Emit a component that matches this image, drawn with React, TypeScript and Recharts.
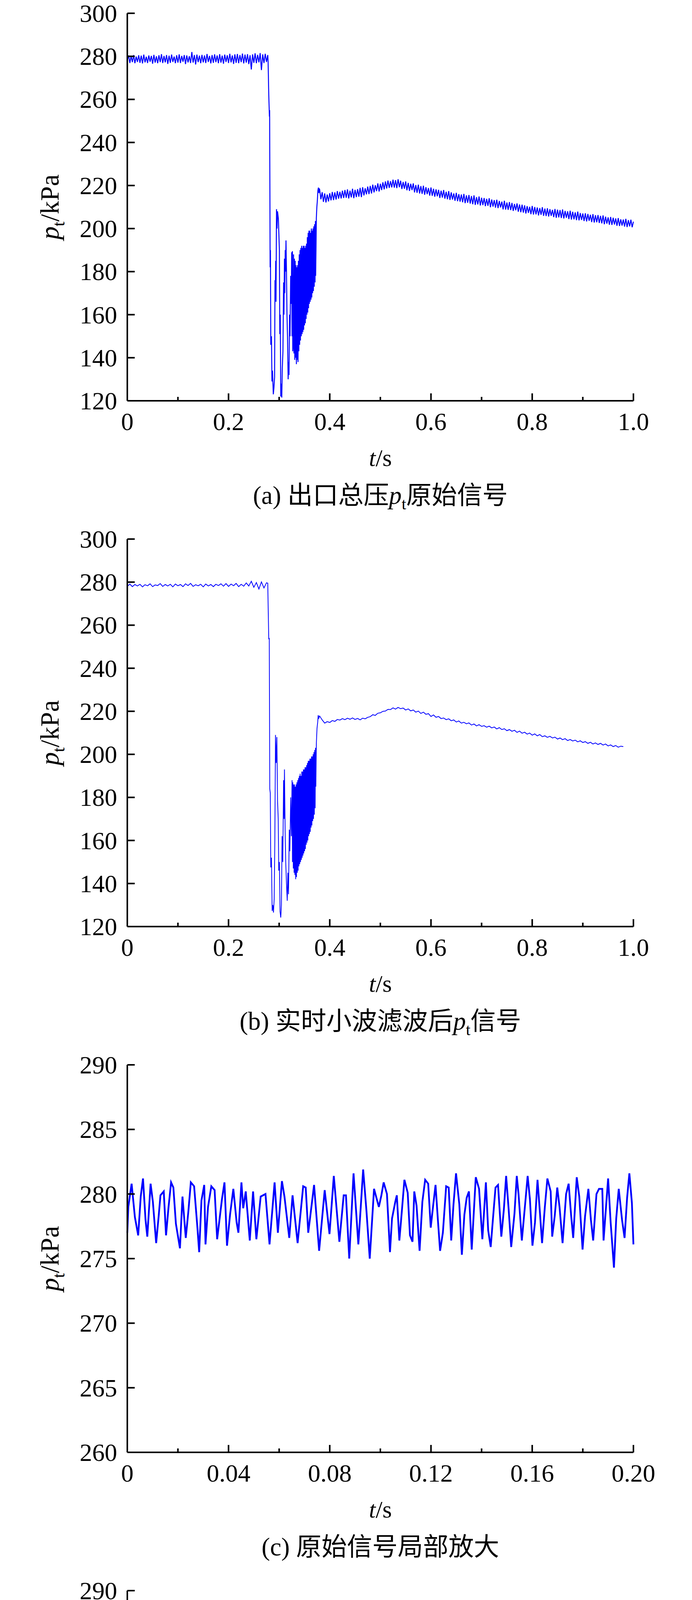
import React from "react";
import { LineChart, Line, XAxis, YAxis } from "recharts";

// ---- shared look ----
const FONT = "'Liberation Serif', 'Times New Roman', 'Noto Sans CJK SC', serif";
const BLUE = "#0000ff";
const W = 1772;
const H = 1346;
const PLOT_LEFT = 326;
const PLOT_RIGHT = 1622;
const PLOT_TOP = 34;
const PLOT_BOTTOM = 1026;
const X_AXIS_H = 100;

// ---- (a) raw signal ----
const A_STEP = 0.0025;
// 0 .. 0.2775 s
const A_PRE = [
  278.2, 280.4, 276.9, 280.1, 277.3, 280.6, 276.8, 279.9, 277.4, 280.5,
  277.0, 280.3, 276.7, 280.8, 277.2, 279.8, 276.9, 280.4, 277.5, 280.2,
  276.6, 280.7, 277.1, 280.0, 276.8, 280.5, 277.3, 281.0, 276.9, 280.2,
  277.2, 280.6, 276.5, 280.3, 277.0, 280.8, 277.4, 279.9, 276.8, 280.5,
  277.1, 280.9, 276.9, 280.2, 277.5, 280.6, 276.4, 280.4, 277.2, 280.1,
  276.9, 282.0, 277.1, 280.6, 276.2, 280.8, 277.3, 280.3, 276.8, 280.7,
  277.2, 280.4, 276.9, 281.1, 277.4, 280.2, 276.7, 280.6, 277.0, 280.9,
  277.3, 280.4, 276.8, 281.0, 277.1, 280.3, 276.6, 280.8, 277.4, 280.5,
  276.9, 281.2, 277.2, 280.4, 276.5, 280.9, 277.0, 281.1, 276.8, 280.6,
  277.3, 281.3, 276.7, 280.8, 277.1, 281.0, 276.4, 280.5, 273.9, 280.9,
  277.0, 281.4, 276.8, 280.7, 277.2, 281.5, 273.6, 280.9, 276.9, 281.2,
  277.4, 280.6,
];
// pressure collapse, [t, p]
const A_DROP: [number, number][] = [
  [0.2782, 277.5], [0.2795, 262], [0.2808, 252], [0.2812, 255], [0.2822, 182],
  [0.2828, 190], [0.2835, 146], [0.2848, 150], [0.2858, 129], [0.2868, 134],
  [0.2885, 123], [0.2897, 126], [0.291, 131], [0.2918, 176], [0.2925, 168],
  [0.2932, 185], [0.2938, 166], [0.2948, 209], [0.2958, 200], [0.2968, 208],
  [0.2985, 204.5], [0.3005, 190], [0.3013, 151], [0.3022, 160], [0.3032, 122],
  [0.3045, 128], [0.3052, 121.5], [0.3062, 135], [0.3075, 143], [0.3088, 175],
  [0.3095, 160], [0.3105, 186], [0.3112, 170], [0.312, 190], [0.3128, 180],
  [0.3135, 194.5], [0.3145, 180], [0.3155, 160], [0.3165, 150], [0.3178, 130],
  [0.3188, 138], [0.3195, 132], [0.3205, 160], [0.3215, 150], [0.3228, 178],
  [0.3238, 165], [0.3248, 189], [0.3255, 150], [0.3262, 189.5], [0.3269, 143],
  [0.3277, 146], [0.3285, 188], [0.3293, 142], [0.3301, 186], [0.3309, 139],
  [0.3317, 185], [0.3325, 140], [0.3333, 183], [0.3341, 137], [0.3349, 182],
  [0.3357, 139], [0.3365, 183], [0.3373, 138], [0.3381, 185], [0.3389, 143],
  [0.3397, 188], [0.3405, 146], [0.3413, 190], [0.3421, 148], [0.3429, 191],
  [0.3437, 150], [0.3445, 192], [0.3453, 151], [0.3461, 191], [0.3469, 152],
  [0.3477, 192], [0.3485, 153], [0.3493, 192], [0.3501, 155], [0.3509, 191],
  [0.3517, 156], [0.3525, 192], [0.3533, 158], [0.3541, 193], [0.3549, 160],
  [0.3557, 196], [0.3565, 161], [0.3573, 198], [0.3581, 163], [0.3589, 199],
  [0.3597, 165], [0.3605, 199], [0.3613, 166], [0.3621, 198], [0.3629, 167],
  [0.3637, 200], [0.3645, 168], [0.3653, 199], [0.3661, 170], [0.3669, 200],
  [0.3677, 171], [0.3685, 201], [0.3693, 173], [0.3701, 202], [0.3709, 175],
  [0.3717, 203.5], [0.3721, 178], [0.3728, 190], [0.3735, 205], [0.3745, 210],
  [0.3755, 213], [0.3765, 217.5], [0.3775, 219], [0.3785, 216.5], [0.379, 218.5],
];
// 0.38 .. 1.0 s
const A_POST = [
  218.2, 213.6, 216.9, 212.4, 216.3, 212.1, 215.8, 212.6, 216.4, 213.1,
  217.0, 213.2, 216.8, 213.5, 217.4, 213.9, 217.1, 214.0, 217.6, 214.2,
  217.9, 214.3, 218.2, 214.0, 217.6, 214.5, 218.5, 214.1, 218.0, 214.6,
  218.3, 214.8, 218.9, 214.6, 219.2, 215.4, 218.7, 215.9, 219.5, 216.0,
  219.8, 216.3, 220.4, 216.8, 220.1, 217.4, 221.0, 217.2, 220.8, 217.9,
  221.5, 218.2, 221.9, 218.6, 222.3, 218.9, 222.0, 219.1, 222.7, 219.0,
  222.5, 218.8, 222.9, 219.2, 222.2, 218.4, 221.6, 218.5, 221.9, 217.8,
  221.2, 217.5, 220.8, 217.9, 221.0, 216.8, 220.2, 216.6, 220.4, 216.3,
  219.7, 216.1, 219.9, 215.7, 219.2, 216.0, 218.8, 215.3, 219.1, 215.2,
  218.5, 214.8, 218.2, 215.0, 218.0, 214.2, 217.6, 214.4, 217.9, 213.9,
  217.1, 213.6, 217.4, 213.3, 216.8, 213.5, 216.3, 212.9, 216.6, 212.7,
  216.0, 212.5, 215.8, 212.2, 216.1, 211.8, 215.4, 212.0, 215.6, 211.6,
  215.1, 211.3, 215.4, 211.0, 214.6, 211.2, 214.9, 210.7, 214.3, 210.9,
  214.2, 210.4, 213.8, 210.6, 214.1, 209.9, 213.5, 210.2, 213.2, 209.7,
  213.4, 209.5, 212.8, 209.8, 212.5, 208.9, 212.9, 208.8, 212.1, 208.7,
  212.3, 208.6, 211.9, 208.2, 211.4, 208.5, 211.7, 207.8, 211.2, 207.6,
  211.1, 207.4, 210.8, 207.0, 210.4, 207.3, 210.1, 206.7, 210.5, 206.5,
  210.0, 206.6, 209.8, 206.1, 209.5, 206.4, 209.9, 205.9, 209.3, 205.8,
  209.4, 205.6, 209.0, 205.9, 208.7, 205.3, 209.1, 205.0, 208.8, 205.2,
  208.6, 204.9, 208.9, 204.7, 208.2, 205.0, 208.0, 204.4, 208.3, 204.2,
  207.8, 204.3, 207.5, 203.9, 207.9, 203.8, 207.2, 204.0, 207.0, 203.5,
  207.1, 203.3, 206.8, 203.6, 206.4, 203.0, 206.7, 202.8, 206.2, 202.9,
  206.3, 202.6, 205.9, 202.4, 206.1, 202.0, 205.5, 202.3, 205.2, 201.8,
  205.4, 201.7, 205.0, 201.9, 204.7, 201.3, 204.9, 201.2, 204.3, 201.4,
  204.2, 200.9, 204.5, 200.7, 203.9, 201.0, 204.1, 200.6, 203.2,
];

// ---- (b) wavelet filtered ----
const B_STEP = 0.005;
const B_PRE = [
  278.0, 279.1, 277.9, 278.9, 278.2, 279.0, 277.8, 278.8, 278.3, 279.2,
  277.9, 278.7, 278.4, 279.3, 278.0, 278.9, 278.2, 279.0, 277.8, 279.1,
  278.3, 278.9, 277.9, 279.2, 278.4, 279.4, 278.0, 278.8, 278.3, 279.0,
  277.8, 279.1, 278.2, 278.9, 277.9, 279.0, 278.4, 279.2, 278.1, 279.3,
  278.0, 279.1, 278.3, 279.4, 277.9, 279.0, 278.1, 279.6, 278.2, 280.4,
  277.6, 279.8, 276.8, 280.1, 277.3, 279.7,
];
const B_DROP: [number, number][] = [
  [0.2775, 279.5], [0.2785, 266], [0.2795, 253.5], [0.2805, 254], [0.2815, 184],
  [0.2825, 182], [0.2835, 147.5], [0.2848, 152], [0.2862, 127.3], [0.2875, 130],
  [0.2888, 126.5], [0.2902, 133], [0.2915, 160], [0.2928, 209], [0.2942, 196],
  [0.2955, 208], [0.2968, 178.7], [0.2982, 170], [0.2992, 146], [0.3005, 150],
  [0.3018, 127], [0.3032, 124.2], [0.3045, 130], [0.3058, 162], [0.3072, 150],
  [0.3088, 188], [0.3098, 170], [0.3105, 193], [0.3118, 165], [0.313, 150],
  [0.3145, 140], [0.316, 132], [0.3172, 145], [0.3185, 135], [0.32, 165],
  [0.3212, 155], [0.3228, 180], [0.3242, 162], [0.3255, 188],
  [0.3263, 150], [0.3271, 187], [0.3279, 147], [0.3287, 186], [0.3295, 145],
  [0.3303, 186], [0.3311, 144], [0.3319, 185], [0.3327, 142], [0.3335, 186],
  [0.3343, 143], [0.3351, 187], [0.3359, 145], [0.3367, 188], [0.3375, 146],
  [0.3383, 189], [0.3391, 148], [0.3399, 190], [0.3407, 149], [0.3415, 191],
  [0.3423, 150], [0.3431, 190], [0.3439, 151], [0.3447, 192], [0.3455, 152],
  [0.3463, 192], [0.3471, 153], [0.3479, 193], [0.3487, 154], [0.3495, 193],
  [0.3503, 155], [0.3511, 194], [0.3519, 156], [0.3527, 194], [0.3535, 158],
  [0.3543, 195], [0.3551, 159], [0.3559, 196], [0.3567, 160], [0.3575, 197],
  [0.3583, 162], [0.3591, 197], [0.3599, 163], [0.3607, 198], [0.3615, 164],
  [0.3623, 198], [0.3631, 166], [0.3639, 199], [0.3647, 167], [0.3655, 199],
  [0.3663, 169], [0.3671, 200], [0.3679, 170], [0.3687, 201], [0.3695, 172],
  [0.3703, 202], [0.3711, 175], [0.3719, 203], [0.3725, 185], [0.3735, 205],
  [0.3748, 212], [0.3762, 215], [0.3772, 218.2], [0.3782, 216.5], [0.3792, 217.5],
];
// 0.38 .. 0.98 s
const B_POST = [
  217.8, 216.0, 214.5, 215.2, 214.8, 215.7, 215.3, 216.2, 215.9, 216.6,
  216.1, 216.8, 216.3, 216.9, 216.2, 216.7, 216.0, 216.8, 216.5, 217.2,
  217.5, 218.4, 218.1, 219.1, 219.3, 220.0, 220.1, 220.9, 220.8, 221.6,
  221.0, 221.8, 221.2, 221.5, 220.6, 221.1, 220.2, 220.6, 219.6, 220.1,
  219.0, 219.6, 218.6, 218.9, 217.6, 218.3, 217.2, 217.6, 216.6, 216.9,
  216.1, 216.5, 215.6, 216.0, 215.0, 215.5, 214.5, 214.9, 214.2, 214.6,
  213.6, 214.1, 213.2, 213.8, 213.0, 213.3, 212.6, 213.1, 212.3, 212.7,
  211.8, 212.4, 211.5, 211.9, 211.0, 211.5, 210.7, 211.2, 210.2, 210.8,
  209.8, 210.3, 209.4, 209.9, 208.9, 209.5, 208.6, 209.2, 208.2, 208.6,
  207.9, 208.4, 207.6, 208.0, 207.1, 207.6, 206.8, 207.3, 206.4, 206.9,
  206.2, 206.6, 205.8, 206.3, 205.5, 205.9, 205.1, 205.6, 204.8, 205.3,
  204.6, 205.1, 204.3, 204.8, 203.9, 204.4, 203.6, 204.1, 203.3, 203.8,
  203.6,
];

// ---- (c) raw signal, zoom 0..0.2 s ----
const C_POINTS: [number, number][] = [
  [0, 277.0], [0.0004, 279.0], [0.0017, 280.8], [0.003, 278.2], [0.0043, 276.8],
  [0.0053, 279.8], [0.0062, 281.2], [0.0072, 278.0], [0.0079, 276.7], [0.0092, 280.8],
  [0.0101, 279.4], [0.0114, 276.2], [0.0124, 278.3], [0.0131, 279.9], [0.0144, 280.2],
  [0.0153, 276.8], [0.0163, 279.0], [0.0173, 280.9], [0.0182, 280.5], [0.0192, 277.7],
  [0.0208, 275.8], [0.0218, 279.8], [0.0231, 276.6], [0.0241, 278.6], [0.0251, 280.9],
  [0.0264, 280.6], [0.0277, 277.4], [0.0284, 275.5], [0.0293, 279.5], [0.0304, 280.7],
  [0.0309, 276.1], [0.0319, 279.0], [0.0332, 280.6], [0.0345, 280.3], [0.0355, 276.5],
  [0.0374, 279.6], [0.0384, 280.9], [0.0394, 276.0], [0.0406, 278.4], [0.0419, 280.4],
  [0.0432, 277.8], [0.0439, 277.0], [0.0451, 280.9], [0.0458, 278.9], [0.0468, 280.2],
  [0.0484, 276.4], [0.0497, 280.2], [0.051, 276.5], [0.0527, 279.8], [0.0546, 280.0],
  [0.0562, 276.1], [0.0582, 280.9], [0.0595, 277.0], [0.0611, 281.0], [0.0621, 279.8],
  [0.064, 276.6], [0.0653, 279.9], [0.0673, 276.2], [0.0695, 280.6], [0.0705, 280.5],
  [0.0715, 277.0], [0.0738, 280.7], [0.0758, 275.6], [0.078, 280.3], [0.0799, 276.9],
  [0.0816, 281.4], [0.0838, 276.3], [0.0855, 279.9], [0.0864, 279.9], [0.0877, 275.0],
  [0.0894, 281.6], [0.0913, 276.1], [0.0932, 281.9], [0.0945, 278.7], [0.0958, 275.0],
  [0.0975, 280.4], [0.0994, 279.0], [0.1004, 279.9], [0.1013, 280.9], [0.1026, 280.0],
  [0.1038, 275.5], [0.1046, 278.1], [0.1059, 279.4], [0.1065, 279.9], [0.1075, 276.4],
  [0.1085, 278.7], [0.1095, 281.1], [0.1108, 280.1], [0.1117, 276.8], [0.1127, 276.3],
  [0.1134, 280.2], [0.1143, 279.1], [0.1155, 275.6], [0.1166, 279.4], [0.1177, 281.1],
  [0.1189, 280.8], [0.1199, 277.4], [0.1208, 279.0], [0.1218, 280.7], [0.1228, 277.8],
  [0.1236, 275.6], [0.1247, 277.0], [0.126, 280.6], [0.127, 280.5], [0.128, 276.4],
  [0.1289, 279.2], [0.1299, 281.6], [0.1312, 279.2], [0.1322, 275.3], [0.1332, 278.4],
  [0.1341, 279.7], [0.135, 280.2], [0.1361, 275.7], [0.1377, 281.3], [0.139, 280.4],
  [0.1403, 276.5], [0.1417, 280.9], [0.1426, 277.2], [0.1436, 275.9], [0.1445, 278.1],
  [0.1455, 280.5], [0.1465, 280.7], [0.1478, 276.7], [0.1488, 278.8], [0.1497, 281.4],
  [0.1507, 278.8], [0.1517, 275.9], [0.153, 278.5], [0.1539, 281.4], [0.1546, 280.0],
  [0.1559, 276.4], [0.1572, 279.2], [0.1582, 281.4], [0.1591, 279.6], [0.1601, 276.0],
  [0.1611, 277.8], [0.1621, 281.1], [0.163, 278.7], [0.1639, 276.2], [0.165, 279.0],
  [0.166, 281.2], [0.1673, 280.2], [0.1679, 276.7], [0.1689, 278.3], [0.1699, 280.5],
  [0.1708, 279.0], [0.172, 276.2], [0.1734, 280.0], [0.1744, 280.8], [0.1754, 278.3],
  [0.1762, 276.6], [0.1776, 281.3], [0.1786, 279.8], [0.1799, 275.7], [0.1809, 278.3],
  [0.1822, 280.4], [0.1832, 278.0], [0.1841, 276.4], [0.1854, 280.0], [0.1864, 280.4],
  [0.1877, 280.4], [0.1882, 276.4], [0.19, 281.2], [0.191, 277.8], [0.1923, 274.3],
  [0.1932, 278.1], [0.1942, 280.4], [0.1955, 278.0], [0.1965, 276.6], [0.1975, 279.7],
  [0.1984, 281.6], [0.1994, 279.3], [0.2, 276.1],
];

// ---- (d) filtered signal, zoom 0..0.16 s ----
const D_POINTS: [number, number][] = [
  [0, 277.9], [0.0003, 278.0], [0.0019, 278.7], [0.0034, 278.0], [0.0045, 278.2],
  [0.0056, 279.15], [0.0065, 278.7], [0.0076, 277.9], [0.0083, 277.45], [0.0089, 278.1],
  [0.0096, 279.25], [0.0104, 278.6], [0.0115, 277.9], [0.0128, 278.6], [0.0137, 278.75],
  [0.0148, 278.45], [0.0161, 277.75], [0.0172, 278.5], [0.018, 278.65], [0.019, 278.4],
  [0.0199, 277.65], [0.0206, 278.1], [0.0215, 278.9], [0.0221, 278.2], [0.0237, 278.05],
  [0.025, 278.4], [0.026, 278.65], [0.0268, 278.2], [0.0276, 277.7], [0.0284, 278.2],
  [0.0296, 278.8], [0.0304, 278.4], [0.0315, 277.9], [0.0325, 278.3], [0.0338, 278.65],
  [0.0351, 278.55], [0.0366, 278.0], [0.0379, 279.35], [0.0387, 278.5], [0.0397, 277.9],
  [0.0406, 278.5], [0.0416, 279.3], [0.0426, 278.3], [0.0434, 278.25], [0.0455, 278.6],
  [0.0471, 278.15], [0.0484, 278.25], [0.0502, 278.8], [0.0512, 278.5], [0.052, 278.2],
  [0.0533, 279.05], [0.0546, 278.6], [0.0559, 277.7], [0.0569, 278.1], [0.058, 278.75],
  [0.059, 278.5], [0.0598, 278.3], [0.0619, 278.95], [0.0626, 278.6], [0.0637, 277.9],
  [0.0647, 278.35], [0.0658, 278.9], [0.0668, 278.3], [0.0678, 277.35], [0.0689, 278.1],
  [0.0698, 279.25], [0.0707, 278.6], [0.0715, 278.05], [0.0725, 278.55], [0.0736, 279.7],
  [0.0746, 278.7], [0.0759, 277.4], [0.0769, 278.2], [0.0778, 279.0], [0.0787, 278.6],
  [0.0795, 278.4], [0.0803, 278.2], [0.0816, 278.8], [0.0829, 278.55], [0.0841, 277.75],
  [0.085, 278.3], [0.086, 278.65], [0.087, 278.6], [0.0878, 277.9], [0.0887, 278.5],
  [0.0897, 279.25], [0.0907, 278.9], [0.092, 278.3], [0.0927, 278.1], [0.0934, 278.6],
  [0.094, 278.2], [0.0948, 277.85], [0.0955, 277.5], [0.0964, 278.3], [0.0974, 278.95],
  [0.0982, 279.35], [0.099, 278.7], [0.0995, 278.2], [0.1008, 278.25], [0.1019, 278.8],
  [0.1026, 278.4], [0.1034, 277.6], [0.1044, 277.1], [0.1052, 277.7], [0.1061, 278.5],
  [0.1076, 278.45], [0.1083, 277.9], [0.109, 278.7], [0.1099, 279.35], [0.1107, 278.9],
  [0.1112, 278.2], [0.1121, 277.6], [0.113, 278.3], [0.1139, 278.8], [0.1148, 279.05],
  [0.1156, 278.2], [0.1161, 277.4], [0.1168, 278.6], [0.1174, 279.45], [0.1182, 279.2],
  [0.119, 278.5], [0.12, 277.75], [0.1208, 278.3], [0.1217, 278.8], [0.1226, 278.5],
  [0.1238, 277.95], [0.1247, 278.15], [0.1255, 278.3], [0.1265, 279.25], [0.127, 278.7],
  [0.1278, 277.95], [0.1286, 278.4], [0.1299, 279.15], [0.1307, 278.8], [0.132, 277.6],
  [0.133, 278.4], [0.134, 279.3], [0.1347, 278.7], [0.1359, 278.05], [0.1369, 278.1],
  [0.1381, 279.4], [0.139, 278.7], [0.14, 277.9], [0.1411, 278.5], [0.1421, 279.1],
  [0.1431, 278.8], [0.1443, 277.6], [0.145, 278.5], [0.1457, 279.4], [0.1465, 278.7],
  [0.1477, 278.1], [0.1486, 278.35], [0.1496, 278.8], [0.1507, 278.55], [0.152, 278.2],
  [0.1538, 278.8], [0.1551, 278.7], [0.1561, 278.1], [0.1572, 278.6], [0.1584, 279.3],
  [0.1592, 278.3], [0.1599, 277.9], [0.16, 277.9],
];

// ---- axis ticks ----
const AB_X_TICKS = [0, 0.1, 0.2, 0.3, 0.4, 0.5, 0.6, 0.7, 0.8, 0.9, 1.0];
const AB_X_LABELS = ["0", "0.2", "0.4", "0.6", "0.8", "1.0"];
const AB_Y_TICKS = [120, 140, 160, 180, 200, 220, 240, 260, 280, 300];
const C_X_TICKS = [0, 0.02, 0.04, 0.06, 0.08, 0.1, 0.12, 0.14, 0.16, 0.18, 0.2];
const C_X_LABELS = ["0", "0.04", "0.08", "0.12", "0.16", "0.20"];
const D_X_TICKS = [0, 0.02, 0.04, 0.06, 0.08, 0.1, 0.12, 0.14, 0.16];
const D_X_LABELS = ["0", "0.04", "0.08", "0.12", "0.16"];
const CD_Y_TICKS = [260, 265, 270, 275, 280, 285, 290];

type Pt = { t: number; v: number };

const aData: Pt[] = [
  ...A_PRE.map((v, i) => ({ t: i * A_STEP, v })),
  ...A_DROP.map(([t, v]) => ({ t, v })),
  ...A_POST.map((v, i) => ({ t: 0.38 + i * A_STEP, v })),
];
const bData: Pt[] = [
  ...B_PRE.map((v, i) => ({ t: i * B_STEP, v })),
  ...B_DROP.map(([t, v]) => ({ t, v })),
  ...B_POST.map((v, i) => ({ t: 0.38 + i * B_STEP, v })),
];
const cData: Pt[] = C_POINTS.map(([t, v]) => ({ t, v }));
const dData: Pt[] = D_POINTS.map(([t, v]) => ({ t, v }));

// inward ticks, label under the axis; every other tick is a labelled major one
function XTick(props: any) {
  const { x, y, payload, ticks, labels } = props;
  const idx = ticks.indexOf(payload.value);
  const major = idx % 2 === 0;
  return (
    <g>
      <line x1={x} x2={x} y1={y} y2={y - (major ? 19 : 10)} stroke="#000" strokeWidth={4} />
      {major && (
        <text x={x} y={y + 75} textAnchor="middle" fontSize={64} fontFamily={FONT} fill="#000">
          {labels[idx / 2]}
        </text>
      )}
    </g>
  );
}

function YTick(props: any) {
  const { x, y, payload } = props;
  return (
    <g>
      <line x1={x} x2={x + 19} y1={y} y2={y} stroke="#000" strokeWidth={4} />
      <text x={x - 26} y={y + 22} textAnchor="end" fontSize={64} fontFamily={FONT} fill="#000">
        {String(payload.value)}
      </text>
    </g>
  );
}

type PanelProps = {
  height: number;
  data: Pt[];
  xDomain: [number, number];
  xTicks: number[];
  xLabels: string[];
  yDomain: [number, number];
  yTicks: number[];
  strokeWidth: number;
  tag: string;
  before: string;
  after: string;
  sub: boolean;
};

function Panel(props: PanelProps) {
  const { height, data, xDomain, xTicks, xLabels, yDomain, yTicks, strokeWidth, tag, before, after, sub } = props;
  const cx = (PLOT_LEFT + PLOT_RIGHT) / 2;
  const cy = (PLOT_TOP + PLOT_BOTTOM) / 2;
  const bottom = height - PLOT_BOTTOM - X_AXIS_H;
  return (
    <div style={{ position: "relative", width: W, height, overflow: "hidden" }}>
      <LineChart
        width={W}
        height={height}
        data={data}
        margin={{ top: PLOT_TOP, right: W - PLOT_RIGHT, bottom, left: 0 }}
      >
        <XAxis
          dataKey="t"
          type="number"
          domain={xDomain}
          ticks={xTicks}
          interval={0}
          height={X_AXIS_H}
          tickSize={0}
          tickMargin={0}
          tickLine={false}
          axisLine={{ stroke: "#000", strokeWidth: 4 }}
          tick={(p: any) => <XTick {...p} ticks={xTicks} labels={xLabels} />}
        />
        <XAxis
          xAxisId="top"
          orientation="top"
          dataKey="t"
          type="number"
          domain={xDomain}
          height={0}
          tick={false}
          tickLine={false}
          axisLine={{ stroke: "#000", strokeWidth: 4 }}
        />
        <YAxis
          type="number"
          domain={yDomain}
          ticks={yTicks}
          interval={0}
          width={PLOT_LEFT}
          tickSize={0}
          tickMargin={0}
          tickLine={false}
          axisLine={{ stroke: "#000", strokeWidth: 4 }}
          tick={(p: any) => <YTick {...p} />}
        />
        <YAxis
          yAxisId="right"
          orientation="right"
          type="number"
          domain={yDomain}
          width={0}
          tick={false}
          tickLine={false}
          axisLine={{ stroke: "#000", strokeWidth: 4 }}
        />
        <Line
          type="linear"
          dataKey="v"
          stroke={BLUE}
          strokeWidth={strokeWidth}
          strokeLinejoin="miter"
          dot={false}
          activeDot={false}
          isAnimationActive={false}
        />
      </LineChart>
      <svg
        width={W}
        height={height}
        style={{ position: "absolute", left: 0, top: 0, pointerEvents: "none" }}
        fontFamily={FONT}
      >
        <text transform={`translate(150,${cy}) rotate(-90)`} textAnchor="middle" fontSize={68} fill="#000">
          <tspan fontStyle="italic">p</tspan>
          <tspan fontSize={44} dy={15}>t</tspan>
          <tspan dy={-15}>/kPa</tspan>
        </text>
        <text x={cx} y={1193} textAnchor="middle" fontSize={62} fill="#000">
          <tspan fontStyle="italic">t</tspan>/s
        </text>
        <text x={cx} y={1290} textAnchor="middle" fontSize={65} fill="#000">
          {tag + " " + before}
          {sub && (
            <>
              <tspan fontStyle="italic">p</tspan>
              <tspan fontSize={42} dy={14}>t</tspan>
              <tspan dy={-14}>{after}</tspan>
            </>
          )}
        </text>
      </svg>
    </div>
  );
}

export default function App() {
  return (
    <div style={{ width: W, background: "#fff" }}>
      <style>{"html,body{margin:0;padding:0;background:#fff;overflow:hidden}"}</style>
      <Panel
        height={H}
        data={aData}
        xDomain={[0, 1]}
        xTicks={AB_X_TICKS}
        xLabels={AB_X_LABELS}
        yDomain={[120, 300]}
        yTicks={AB_Y_TICKS}
        strokeWidth={2.5}
        tag="(a)"
        before="出口总压"
        after="原始信号"
        sub
      />
      <Panel
        height={H}
        data={bData}
        xDomain={[0, 1]}
        xTicks={AB_X_TICKS}
        xLabels={AB_X_LABELS}
        yDomain={[120, 300]}
        yTicks={AB_Y_TICKS}
        strokeWidth={2}
        tag="(b)"
        before="实时小波滤波后"
        after="信号"
        sub
      />
      <Panel
        height={H}
        data={cData}
        xDomain={[0, 0.2]}
        xTicks={C_X_TICKS}
        xLabels={C_X_LABELS}
        yDomain={[260, 290]}
        yTicks={CD_Y_TICKS}
        strokeWidth={4.5}
        tag="(c)"
        before="原始信号局部放大"
        after=""
        sub={false}
      />
      <Panel
        height={5347 - 3 * H}
        data={dData}
        xDomain={[0, 0.16]}
        xTicks={D_X_TICKS}
        xLabels={D_X_LABELS}
        yDomain={[260, 290]}
        yTicks={CD_Y_TICKS}
        strokeWidth={2.5}
        tag="(d)"
        before="滤波后信号局部放大"
        after=""
        sub={false}
      />
    </div>
  );
}
